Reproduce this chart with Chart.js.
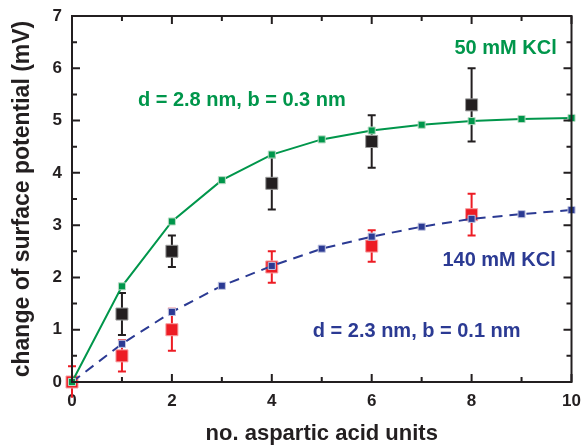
<!DOCTYPE html>
<html>
<head>
<meta charset="utf-8">
<script src="https://cdn.jsdelivr.net/npm/chart.js@4"></script>
<style>
  body { margin: 0; background: #fff; }
  #wrap { width: 581px; height: 448px; }
</style>
</head>
<body>
<div id="wrap"><canvas id="chart" width="581" height="448"></canvas></div>
<script>
// units on the x axis
const units = [0, 1, 2, 3, 4, 5, 6, 7, 8, 9, 10];
// model curves
const fit50 = [0, 1.83, 3.07, 3.86, 4.35, 4.64, 4.81, 4.92, 4.99, 5.03, 5.05];
const fit140 = [0, 0.73, 1.34, 1.84, 2.22, 2.55, 2.78, 2.97, 3.12, 3.21, 3.29];
// measured points (no black point at 0)
const measX = [0, 1, 2, 4, 6, 8];
const meas50 = [null, 1.3, 2.5, 3.8, 4.6, 5.3];
const err50 = [0, 0.4, 0.3, 0.5, 0.5, 0.7];
const meas140 = [0, 0.5, 1.0, 2.2, 2.6, 3.2];
const err140 = [0.3, 0.3, 0.4, 0.3, 0.3, 0.4];

const GREEN = "#00964b";
const BLUE = "#2b3a93";
const RED = "#ed1c24";
const BLACK = "#231f20";

function pts(xs, ys) {
  return xs.map((x, i) => ({ x: x, y: ys[i] }));
}

// error bars under the markers
const errorBars = {
  id: "errorBars",
  beforeDatasetsDraw(chart) {
    const ctx = chart.ctx;
    const xs = chart.scales.x, ys = chart.scales.y;
    const sets = [[meas50, err50, BLACK], [meas140, err140, RED]];
    ctx.save();
    ctx.lineWidth = 2;
    sets.forEach(([vals, errs, col]) => {
      ctx.strokeStyle = col;
      measX.forEach((x, i) => {
        if (!errs[i] || vals[i] === null) return;
        const px = xs.getPixelForValue(x);
        const top = ys.getPixelForValue(vals[i] + errs[i]);
        const bot = ys.getPixelForValue(vals[i] - errs[i]);
        ctx.beginPath();
        ctx.moveTo(px, top); ctx.lineTo(px, bot);
        ctx.moveTo(px - 4, top); ctx.lineTo(px + 4, top);
        if (vals[i] - errs[i] >= 0) { ctx.moveTo(px - 4, bot); ctx.lineTo(px + 4, bot); }
        ctx.stroke();
      });
    });
    ctx.restore();
  }
};

// frame with inward ticks on all four sides, plus labels
const frame = {
  id: "frame",
  afterDatasetsDraw(chart) {
    const ctx = chart.ctx;
    const a = chart.chartArea;
    const xs = chart.scales.x, ys = chart.scales.y;
    ctx.save();
    ctx.strokeStyle = BLACK;
    ctx.lineWidth = 2;
    ctx.strokeRect(a.left, a.top, a.right - a.left, a.bottom - a.top);
    ctx.beginPath();
    for (let v = 0; v <= 10; v++) {
      const px = xs.getPixelForValue(v);
      const len = v % 2 === 0 ? 8 : 5;
      ctx.moveTo(px, a.bottom); ctx.lineTo(px, a.bottom - len);
      ctx.moveTo(px, a.top); ctx.lineTo(px, a.top + len);
    }
    for (let v = 0; v <= 7; v += 0.5) {
      const py = ys.getPixelForValue(v);
      const len = v % 1 === 0 ? 8 : 5;
      ctx.moveTo(a.left, py); ctx.lineTo(a.left + len, py);
      ctx.moveTo(a.right, py); ctx.lineTo(a.right - len, py);
    }
    ctx.stroke();

    ctx.font = "bold 20px 'Liberation Sans', Arial, sans-serif";
    ctx.textBaseline = "middle";
    const labels = [
      ["50 mM KCl", 8.68, 6.38, GREEN, "center"],
      ["d = 2.8 nm, b = 0.3 nm", 1.32, 5.39, GREEN, "left"],
      ["140 mM KCl", 8.55, 2.32, BLUE, "center"],
      ["d = 2.3 nm, b = 0.1 nm", 4.82, 0.975, BLUE, "left"]
    ];
    labels.forEach(([t, x, y, c, al]) => {
      ctx.fillStyle = c;
      ctx.textAlign = al;
      ctx.fillText(t, xs.getPixelForValue(x), ys.getPixelForValue(y));
    });
    ctx.restore();
  }
};

const tickFont = { family: "'Liberation Sans', Arial, sans-serif", size: 17, weight: "bold" };

new Chart(document.getElementById("chart"), {
  type: "line",
  data: {
    datasets: [
      {
        label: "fit 50 mM",
        data: pts(units, fit50),
        borderColor: GREEN,
        borderWidth: 2,
        pointStyle: "rect",
        pointRadius: 5,
        pointBackgroundColor: GREEN,
        pointBorderColor: "#b9dcc4",
        pointBorderWidth: 1,
        order: 0
      },
      {
        label: "fit 140 mM",
        data: pts(units, fit140),
        borderColor: BLUE,
        borderWidth: 2,
        borderDash: [10, 7],
        pointStyle: "rect",
        pointRadius: 5,
        pointBackgroundColor: BLUE,
        pointBorderColor: "#c0c4e0",
        pointBorderWidth: 1,
        order: 1
      },
      {
        label: "50 mM data",
        data: pts(measX, meas50),
        showLine: false,
        pointStyle: "rect",
        pointRadius: 8.5,
        pointBackgroundColor: BLACK,
        pointBorderColor: "#9a9a9a",
        pointBorderWidth: 1,
        order: 2
      },
      {
        label: "140 mM data",
        data: pts(measX, meas140),
        showLine: false,
        pointStyle: "rect",
        pointRadius: 8.5,
        pointBackgroundColor: RED,
        pointBorderColor: "#f6a0a3",
        pointBorderWidth: 1,
        order: 3
      }
    ]
  },
  options: {
    responsive: false,
    animation: false,
    clip: false,
    layout: { padding: { top: 16, right: 9, left: 0, bottom: 0 } },
    plugins: { legend: { display: false }, tooltip: { enabled: false } },
    scales: {
      x: {
        type: "linear",
        min: 0, max: 10,
        grid: { display: false, drawTicks: false },
        border: { display: false },
        ticks: { stepSize: 2, font: tickFont, color: BLACK, padding: 9 },
        title: {
          display: true, text: "no. aspartic acid units", color: BLACK,
          font: { family: "'Liberation Sans', Arial, sans-serif", size: 22, weight: "bold" },
          padding: { top: 6, bottom: 1 }
        },
        afterFit(s) { s.height = 66; s.paddingLeft = 0; s.paddingRight = 0; }
      },
      y: {
        min: 0, max: 7,
        grid: { display: false, drawTicks: false },
        border: { display: false },
        ticks: { stepSize: 1, font: tickFont, color: BLACK, padding: 10 },
        title: {
          display: true, text: "change of surface potential (mV)", color: BLACK,
          font: { family: "'Liberation Sans', Arial, sans-serif", size: 23, weight: "bold" },
          padding: { top: 9, bottom: 0 }
        },
        afterFit(s) { s.width = 72; s.paddingTop = 0; s.paddingBottom = 0; }
      }
    }
  },
  plugins: [errorBars, frame]
});
</script>
</body>
</html>
